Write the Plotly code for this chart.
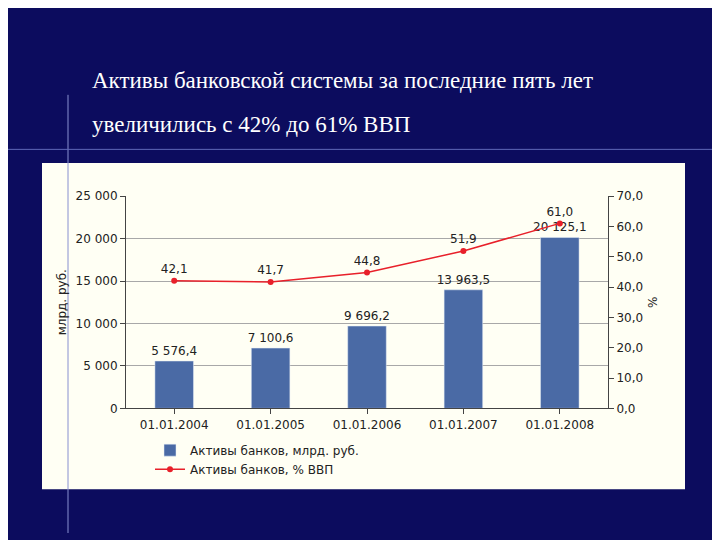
import plotly.graph_objects as go

dates = ["01.01.2004", "01.01.2005", "01.01.2006", "01.01.2007", "01.01.2008"]
assets = [5576.4, 7100.6, 9696.2, 13963.5, 20125.1]
assets_lbl = ["5 576,4", "7 100,6", "9 696,2", "13 963,5", "20 125,1"]
gdp_pct = [42.1, 41.7, 44.8, 51.9, 61.0]
gdp_lbl = ["42,1", "41,7", "44,8", "51,9", "61,0"]

W, H, OFF = 712, 532, 8
def px(X): return (X - OFF) / W
def py(Y): return 1 - (Y - OFF) / H

font = dict(family="DejaVu Sans", size=12, color="#222222")

fig = go.Figure()
fig.add_trace(go.Bar(x=dates, y=assets, name="Активы банков, млрд. руб.",
                     marker_color="#4a6aa5", width=0.4,
                     text=assets_lbl, textposition="outside", cliponaxis=False,
                     constraintext="none", textfont=font))
fig.add_trace(go.Scatter(x=dates, y=gdp_pct, yaxis="y2", name="Активы банков, % ВВП",
                         mode="lines+markers+text", line=dict(color="#e8202a", width=1.5),
                         marker=dict(size=6, color="#e8202a"),
                         text=gdp_lbl, textposition="top center", cliponaxis=False,
                         textfont=font))

ax = dict(showline=True, linecolor="#444", ticks="outside", tickcolor="#444",
          tickfont=font, zeroline=False)
fig.update_layout(
    width=W, height=H, margin=dict(l=0, r=0, t=0, b=0),
    paper_bgcolor="#0c0c5e", plot_bgcolor="#dcdcdc",
    separators=", ", showlegend=True, bargap=0.6,
    xaxis=dict(domain=[px(126), px(608)], **ax),
    yaxis=dict(range=[0, 25000], dtick=5000, tickformat=",d", gridcolor="#a8a8a8",
               title=dict(text="млрд. руб.", font=font, standoff=6),
               anchor="x", domain=[py(412), py(194)], **ax),
    yaxis2=dict(range=[0, 70], dtick=10, tickformat=".1f", overlaying="y", side="right",
                showgrid=False, title=dict(text="%", font=font, standoff=6), **ax),
    legend=dict(x=px(150), y=py(440), xanchor="left", yanchor="top", bgcolor="rgba(0,0,0,0)",
                font=font, tracegroupgap=6),
    shapes=[
        dict(type="rect", xref="paper", yref="paper", x0=px(42), x1=px(685),
             y0=py(495), y1=py(160), fillcolor="#fffff4", line_width=0, layer="below"),
        dict(type="line", xref="paper", yref="paper", x0=px(68), x1=px(68),
             y0=0, y1=py(90), line=dict(color="#8890d0", width=1), layer="below"),
        dict(type="line", xref="paper", yref="paper", x0=0, x1=1,
             y0=py(146), y1=py(146), line=dict(color="#6068b8", width=1), layer="below"),
    ],
    annotations=[
        dict(text="Активы банковской системы за последние пять лет", xref="paper", yref="paper",
             x=px(90), y=py(60), xanchor="left", showarrow=False,
             font=dict(family="Liberation Serif", size=23, color="white")),
        dict(text="увеличились с 42% до 61% ВВП", xref="paper", yref="paper",
             x=px(90), y=py(106), xanchor="left", showarrow=False,
             font=dict(family="Liberation Serif", size=23, color="white")),
    ],
)
fig.write_html("out.html")
